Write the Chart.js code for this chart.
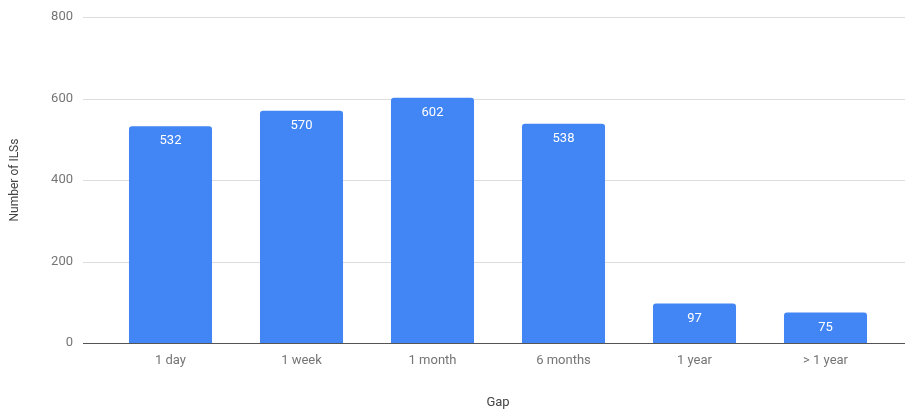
<!DOCTYPE html>
<html>
<head>
<meta charset="utf-8">
<script src="https://cdn.jsdelivr.net/npm/chart.js@4/dist/chart.umd.min.js"></script>
<style>
  html, body { margin: 0; padding: 0; background: #fff; }
  #wrap { width: 909px; height: 415px; position: relative; }
</style>
</head>
<body>
<div id="wrap"><canvas id="bars"></canvas></div>
<script>
var categories = ['1 day', '1 week', '1 month', '6 months', '1 year', '> 1 year'];
var ilsCounts = [532, 570, 602, 538, 97, 75];
var yTicks = [0, 200, 400, 600, 800];

// gridlines run wider than the bar area, like the original
var gridLines = {
    id: 'gridLines',
    beforeDatasetsDraw: function (chart) {
        var c = chart.ctx, y = chart.scales.y;
        c.save();
        yTicks.forEach(function (t) {
            var py = Math.round(y.getPixelForValue(t)) + 0.5;
            c.strokeStyle = t === 0 ? '#555555' : '#dddddd';
            c.lineWidth = 1;
            c.beginPath();
            c.moveTo(83, py);
            c.lineTo(905, py);
            c.stroke();
        });
        c.restore();
    }
};

var barLabels = {
    id: 'barLabels',
    afterDatasetsDraw: function (chart) {
        var c = chart.ctx;
        var meta = chart.getDatasetMeta(0);
        c.save();
        c.fillStyle = '#ffffff';
        c.font = '13px Roboto';
        c.textAlign = 'center';
        c.textBaseline = 'middle';
        meta.data.forEach(function (bar, i) {
            c.fillText(ilsCounts[i], bar.x, bar.y + 15);
        });
        c.restore();
    }
};

var ctx = document.getElementById('bars').getContext('2d');
var chart = new Chart(ctx, {
    type: 'bar',
    data: {
        labels: categories,
        datasets: [{
            label: 'Number of ILSs',
            data: ilsCounts,
            backgroundColor: '#4285f4',
            borderRadius: { topLeft: 3, topRight: 3 },
            borderSkipped: 'bottom',
            barPercentage: 0.634,
            categoryPercentage: 1
        }]
    },
    options: {
        responsive: true,
        maintainAspectRatio: false,
        animation: false,
        layout: { padding: { top: 17, right: 18, left: 0, bottom: 0 } },
        plugins: {
            legend: { display: false },
            tooltip: { enabled: false }
        },
        scales: {
            x: {
                grid: { display: false, drawTicks: false },
                border: { display: false },
                ticks: { color: '#757575', font: { family: 'Roboto', size: 13 }, padding: 10 },
                title: {
                    display: true,
                    text: 'Gap',
                    color: '#444444',
                    font: { family: 'Roboto', size: 13 },
                    padding: { top: 0, bottom: 4 }
                },
                afterFit: function (s) { s.height = 72; }
            },
            y: {
                min: yTicks[0],
                max: yTicks[yTicks.length - 1],
                ticks: {
                    stepSize: yTicks[1] - yTicks[0],
                    color: '#757575',
                    font: { family: 'Roboto', size: 13 },
                    padding: 32
                },
                grid: { display: false, drawTicks: false },
                border: { display: false },
                title: {
                    display: true,
                    text: 'Number of ILSs',
                    color: '#444444',
                    font: { family: 'Roboto', size: 12 },
                    padding: { top: 8, bottom: 0 }
                },
                afterFit: function (s) {
                    s.width = 105;
                    s.paddingTop = 0;
                    s.paddingBottom = 0;
                }
            }
        }
    },
    plugins: [gridLines, barLabels]
});
</script>
</body>
</html>
